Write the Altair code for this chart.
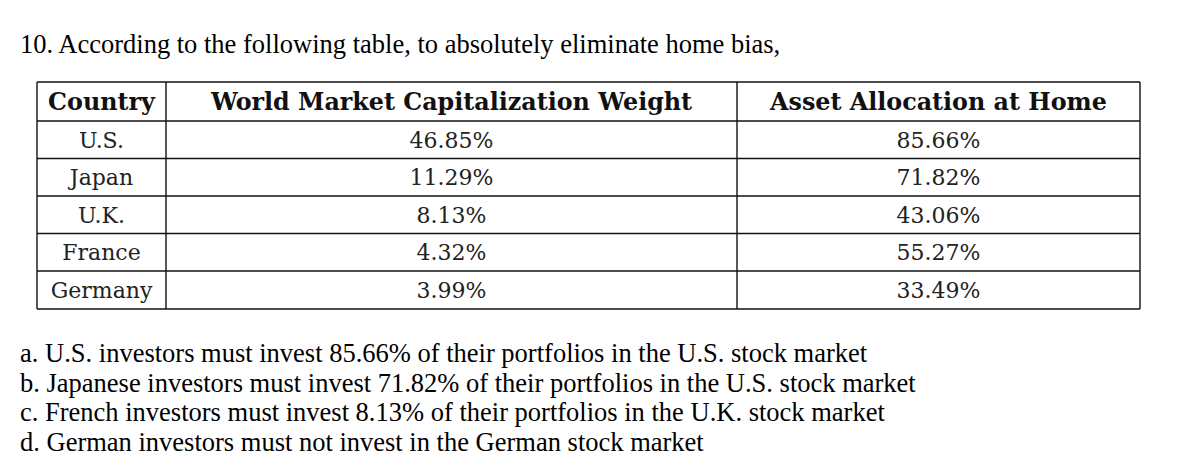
import altair as alt
import pandas as pd

# ---- content ----
title_text = "10. According to the following table, to absolutely eliminate home bias,"
headers = ["Country", "World Market Capitalization Weight", "Asset Allocation at Home"]
countries = ["U.S.", "Japan", "U.K.", "France", "Germany"]
world_weight = ["46.85%", "11.29%", "8.13%", "4.32%", "3.99%"]
home_alloc = ["85.66%", "71.82%", "43.06%", "55.27%", "33.49%"]
answers = [
    "a. U.S. investors must invest 85.66% of their portfolios in the U.S. stock market",
    "b. Japanese investors must invest 71.82% of their portfolios in the U.S. stock market",
    "c. French investors must invest 8.13% of their portfolios in the U.K. stock market",
    "d. German investors must not invest in the German stock market",
]

# ---- layout (page pixels, minus 8px margin) ----
W, H = 1150, 456
M = 8
col_edges = [37 - M, 166 - M, 737 - M, 1140 - M]
row_edges = [82 - M, 121 - M, 158.5 - M, 196 - M, 233.5 - M, 271 - M, 309 - M]

xs = alt.Scale(domain=[0, W], range=[0, W])
ys = alt.Scale(domain=[0, H], range=[0, H])

# grid lines
hl = pd.DataFrame({"x": col_edges[0], "x2": col_edges[-1], "y": row_edges})
vl = pd.DataFrame({"x": col_edges, "y": row_edges[0], "y2": row_edges[-1]})

hrules = alt.Chart(hl).mark_rule(color="#111", strokeWidth=1.4).encode(
    x=alt.X("x:Q", scale=xs, axis=None), x2="x2:Q",
    y=alt.Y("y:Q", scale=ys, axis=None))
vrules = alt.Chart(vl).mark_rule(color="#111", strokeWidth=1.4).encode(
    x=alt.X("x:Q", scale=xs, axis=None),
    y=alt.Y("y:Q", scale=ys, axis=None), y2="y2:Q")

centers_x = [(col_edges[i] + col_edges[i + 1]) / 2 for i in range(3)]
hdr = pd.DataFrame({"t": headers, "x": centers_x,
                    "y": (row_edges[0] + row_edges[1]) / 2 + 1})
cells = []
for r in range(5):
    cy = (row_edges[r + 1] + row_edges[r + 2]) / 2
    for c, col in enumerate([countries, world_weight, home_alloc]):
        cells.append({"t": col[r], "x": centers_x[c], "y": cy + 1})
cells = pd.DataFrame(cells)

hdr_text = alt.Chart(hdr).mark_text(font="DejaVu Serif", fontWeight="bold", fontSize=23.8,
                                    baseline="middle", align="center", color="#111").encode(
    x=alt.X("x:Q", scale=xs, axis=None), y=alt.Y("y:Q", scale=ys, axis=None), text="t:N")
cell_text = alt.Chart(cells).mark_text(font="DejaVu Serif", fontSize=22,
                                       baseline="middle", align="center", color="#222").encode(
    x=alt.X("x:Q", scale=xs, axis=None), y=alt.Y("y:Q", scale=ys, axis=None), text="t:N")

txt = pd.DataFrame({"t": [title_text] + answers,
                    "x": 20 - M,
                    "y": [45 - M] + [354 - M + 29.7 * i for i in range(4)]})
body_text = alt.Chart(txt).mark_text(font="Liberation Serif", fontSize=26.5,
                                     baseline="middle", align="left", color="#000").encode(
    x=alt.X("x:Q", scale=xs, axis=None), y=alt.Y("y:Q", scale=ys, axis=None), text="t:N")

chart = alt.layer(hrules, vrules, hdr_text, cell_text, body_text).properties(
    width=W, height=H, autosize=alt.AutoSizeParams(type="none"), padding=0,
    background="white"
).configure_view(stroke=None)

chart.save("out.html", embed_options={"renderer": "svg", "actions": False})
